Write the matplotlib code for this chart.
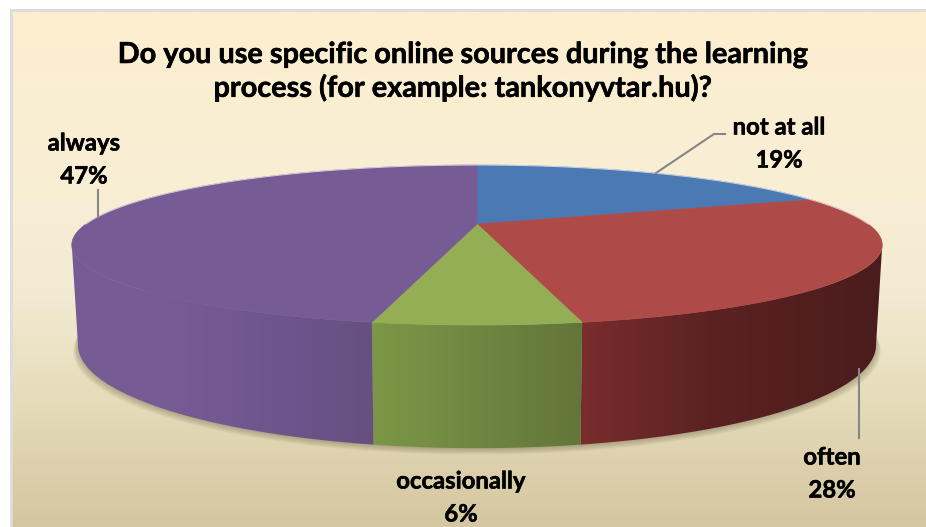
import numpy as np
import matplotlib
matplotlib.use("Agg")
import matplotlib.pyplot as plt
import matplotlib.patheffects as pe
from matplotlib.colors import to_rgb
from matplotlib.patches import Polygon

title_lines = ["Do you use specific online sources during the learning",
               "process (for example: tankonyvtar.hu)?"]
categories = ["not at all", "often", "occasionally", "always"]
values = [19.2, 27.6, 6.4, 46.8]
top_colors = ["#4a79b4", "#ae4a47", "#93ae55", "#765b94"]
wall_stops = [
    [(0, "#3a5f8e"), (1, "#3a5f8e")],
    [(583, "#7a2d2e"), (700, "#5c2222"), (860, "#4a1c1c")],
    [(371, "#7d9848"), (581, "#5f7238")],
    [(72, "#765b94"), (170, "#765b94"), (260, "#6f558e"), (371, "#634f7d")],
]
bg_y = [10, 200, 300, 400, 527]
bg_colors = ["#fdeecf", "#f8eed5", "#f1ead1", "#e6dcba", "#d4c6a0"]

K = 0.2625


def rim(t, cy, r, b):
    u, v = np.cos(t), np.sin(t)
    return np.column_stack([477 + r * u / (1 + K * v), cy - b * v / (1 + K * v)])


def top_rim(t):
    return rim(t, 224, 391, 74.5)


def low_rim(t):
    return rim(t, 318, 385, 96)


def gradient(stops, n=256):
    xs = [s[0] for s in stops]
    cols = np.array([to_rgb(s[1]) for s in stops])
    grid = np.linspace(xs[0], xs[-1], n)
    return np.dstack([np.interp(grid, xs, cols[:, i]) for i in range(3)])


fig = plt.figure(figsize=(9.26, 5.27), dpi=100)
ax = fig.add_axes([0, 0, 1, 1])
ax.axis("off")

# background panel
grid_y = np.linspace(10, 527, 256)
bg_rgb = np.array([to_rgb(c) for c in bg_colors])
bg = np.dstack([np.interp(grid_y, bg_y, bg_rgb[:, i]) for i in range(3)]).reshape(256, 1, 3)
ax.imshow(bg, extent=[11, 926, 527, 10], aspect="auto", zorder=1)
ax.plot([11, 11, 926], [527, 10, 10], color="#dcdcdc", lw=2, zorder=2, solid_joinstyle="miter")

# soft shadow under the pie
full = np.linspace(0, 2 * np.pi, 400)
for i in range(1, 9):
    pts = low_rim(full)
    pts[:, 0] = 477 + (pts[:, 0] - 477) * (1 + i * 0.0015)
    pts[:, 1] += i * 0.8
    ax.add_patch(Polygon(pts, facecolor="#6b6548", edgecolor="none", alpha=0.06, zorder=3))

cum = np.cumsum([0] + values)
for i, name in enumerate(categories):
    t = np.radians(90 - 3.6 * np.linspace(cum[i], cum[i + 1], 300))
    # side wall first, only the part that faces the viewer
    front = t[np.sin(t) <= -K]
    if len(front) > 1:
        wall = Polygon(np.vstack([top_rim(front), low_rim(front[::-1])]), facecolor="none",
                       edgecolor="none", zorder=4)
        ax.add_patch(wall)
        stops = wall_stops[i]
        im = ax.imshow(gradient(stops), extent=[stops[0][0] - 6, stops[-1][0] + 25, 527, 0],
                       aspect="auto", zorder=4)
        im.set_clip_path(wall)
    ax.add_patch(Polygon(np.vstack([[477, 224], top_rim(t)]), facecolor=top_colors[i],
                         edgecolor=top_colors[i], lw=0.5, zorder=5))

# thin highlight on the back edge
back = np.radians(np.linspace(0, 180, 200))
ax.plot(*top_rim(back).T, color="#f4ecf0", lw=0.8, alpha=0.7, zorder=6)

# leader lines
ax.plot([656, 714, 725], [173, 134, 134], color="#868686", lw=1.5, zorder=7)
ax.plot([98, 98], [190, 217], color="#868686", lw=1.5, zorder=7)
ax.plot([859, 859], [369, 438], color="#868686", lw=1.5, zorder=7)

font = dict(family="Lato", fontweight="bold", color="#000000", ha="center", va="center", zorder=8,
            path_effects=[pe.withStroke(linewidth=0.4, foreground="#000000")])
ax.text(463, 55, title_lines[0], fontsize=20.8, **font)
ax.text(463, 88, title_lines[1], fontsize=20.8, **font)

label_pos = {"not at all": (779, 127), "often": (832, 457), "occasionally": (461, 481), "always": (84, 143)}
for name, v in zip(categories, values):
    x, y = label_pos[name]
    ax.text(x, y, name, fontsize=17.2, **font)
    ax.text(x, y + 33, f"{round(v)}%", fontsize=17.2, **font)

ax.set_xlim(0, 926)
ax.set_ylim(527, 0)
fig.savefig("out.png", dpi=100, facecolor="white")
